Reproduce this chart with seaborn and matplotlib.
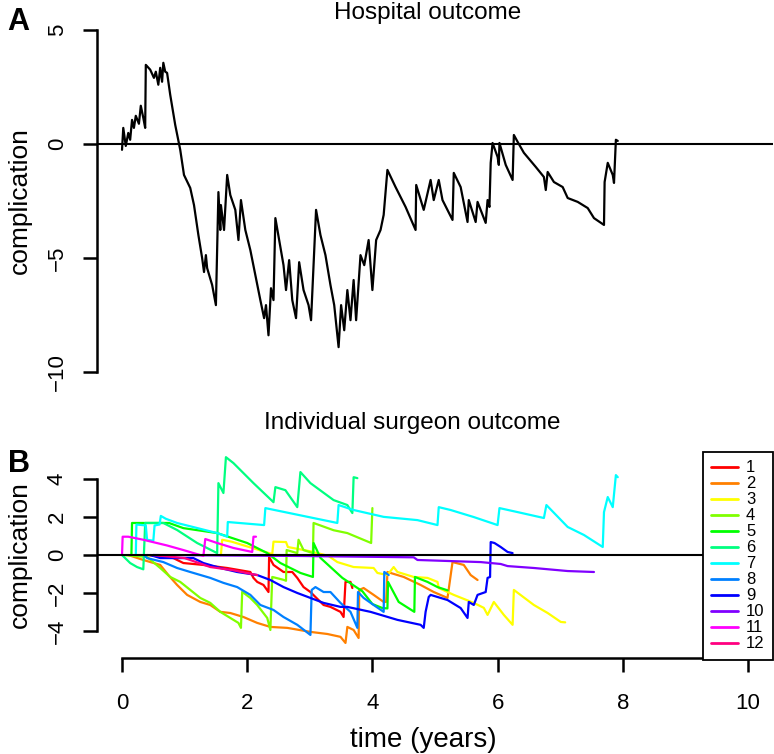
import matplotlib
matplotlib.use('Agg')
import matplotlib.pyplot as plt
import numpy as np
import pandas as pd
import seaborn as sns

sns.set_style('ticks', {'axes.edgecolor': 'black', 'text.color': 'black',
                        'axes.labelcolor': 'black', 'xtick.color': 'black',
                        'ytick.color': 'black'})
plt.rcParams['font.family'] = ['Liberation Sans', 'DejaVu Sans']

# Panel A: hospital CUSUM (time in years, cumulative complication score)
hospital_t = [0.00, 0.02, 0.06, 0.10, 0.13, 0.16, 0.19, 0.22, 0.27, 0.30, 0.34, 0.37,
              0.38, 0.45, 0.51, 0.54, 0.58, 0.61, 0.64, 0.66, 0.69, 0.72, 0.77, 0.85,
              0.93, 0.99, 1.09, 1.15, 1.22, 1.28, 1.31, 1.34, 1.36, 1.44, 1.50, 1.54,
              1.57, 1.58, 1.63, 1.68, 1.73, 1.81, 1.86, 1.90, 1.97, 2.05, 2.13, 2.21,
              2.27, 2.30, 2.34, 2.38, 2.42, 2.45, 2.51, 2.58, 2.62, 2.67, 2.72, 2.78,
              2.83, 2.90, 2.98, 3.02, 3.07, 3.10, 3.17, 3.25, 3.33, 3.39, 3.46, 3.50,
              3.55, 3.60, 3.65, 3.70, 3.74, 3.81, 3.87, 3.94, 4.00, 4.06, 4.13, 4.18,
              4.24, 4.37, 4.53, 4.69, 4.70, 4.82, 4.93, 4.98, 5.06, 5.12, 5.28, 5.30,
              5.41, 5.52, 5.54, 5.65, 5.68, 5.81, 5.84, 5.87, 5.89, 5.92, 6.00, 6.02,
              6.03, 6.13, 6.24, 6.26, 6.32, 6.42, 6.61, 6.74, 6.77, 6.80, 6.90, 7.04,
              7.12, 7.28, 7.44, 7.54, 7.70, 7.71, 7.76, 7.84, 7.86, 7.89, 7.92]
hospital_v = [-0.26, 0.70, -0.09, 0.48, 0.18, 1.05, 0.70, 1.23, 0.88, 1.67, 1.14, 0.70,
              3.46, 3.25, 2.89, 3.16, 2.59, 3.33, 2.72, 3.55, 3.16, 3.11, 2.15, 0.83,
              -0.26, -1.36, -1.93, -2.68, -3.99, -5.00, -5.61, -4.87, -5.44, -6.18, -7.06, -2.11,
              -3.77, -2.68, -3.77, -1.36, -2.24, -2.89, -4.21, -2.46, -3.77, -4.65, -5.75, -6.84,
              -7.63, -7.06, -8.38, -6.32, -6.84, -3.25, -4.21, -5.31, -6.40, -5.09, -6.84, -7.63,
              -5.18, -6.40, -7.06, -7.72, -4.65, -2.89, -3.99, -4.87, -6.18, -7.06, -8.90, -7.06,
              -8.16, -6.40, -7.72, -5.96, -7.72, -4.87, -5.31, -4.21, -6.40, -4.21, -3.77, -3.11,
              -1.14, -1.89, -2.76, -3.77, -1.80, -2.89, -1.58, -2.46, -1.58, -2.46, -3.33, -1.27,
              -1.89, -3.42, -2.46, -3.42, -2.54, -3.46, -2.46, -2.76, -0.83, 0.04, -0.57, -0.92,
              0.04, -0.92, -1.58, 0.39, 0.09, -0.39, -1.01, -1.45, -2.02, -1.23, -1.67, -1.89,
              -2.37, -2.54, -2.81, -3.25, -3.55, -1.67, -0.83, -1.36, -1.71, 0.18, 0.13]

# Panel B: individual surgeon CUSUMs, (time, score) pairs
surgeon_1 = [(0.40, 0.00), (0.82, -0.16), (0.98, -0.42), (1.30, -0.52), (1.68, -0.68),
             (2.05, -0.89), (2.10, -1.20), (2.16, -1.41), (2.26, -1.57), (2.34, -1.94),
             (2.35, -0.10), (2.42, -0.52), (2.58, -0.89), (2.72, -0.89), (2.80, -1.20),
             (2.90, -1.68), (3.01, -1.94), (3.09, -2.20), (3.22, -2.62), (3.33, -2.72),
             (3.49, -2.98), (3.54, -3.25), (3.57, -1.41), (3.65, -1.41), (3.68, -1.73)]
surgeon_2 = [(0.10, 0.00), (0.34, -0.26), (0.61, -0.52), (0.74, -1.05), (0.88, -1.57),
             (1.04, -2.09), (1.25, -2.46), (1.41, -2.62), (1.57, -2.98), (1.73, -3.04),
             (1.94, -3.25), (2.16, -3.56), (2.37, -3.77), (2.64, -3.82), (3.01, -4.03),
             (3.28, -4.14), (3.49, -4.29), (3.57, -4.61), (3.60, -3.77), (3.70, -3.93),
             (3.78, -4.35), (3.79, -1.83), (3.86, -1.73), (4.02, -2.09), (4.18, -2.46),
             (4.22, -2.46), (4.24, -0.89), (4.50, -1.15), (4.77, -1.57), (4.98, -1.94),
             (5.20, -2.25), (5.28, -0.37), (5.46, -0.52), (5.57, -1.05), (5.68, -1.31)]
surgeon_3 = [(1.58, 0.00), (1.60, 0.80), (1.75, 0.70), (2.10, 0.35), (2.40, 0.05),
             (2.42, 0.70), (2.62, 0.68), (2.65, 0.42), (3.00, 0.20), (3.30, -0.05),
             (3.44, -0.37), (3.70, -0.63), (4.02, -0.68), (4.08, -0.94), (4.24, -1.05),
             (4.34, -0.63), (4.40, -0.89), (4.66, -1.15), (4.88, -1.20), (5.04, -1.41),
             (5.06, -1.73), (5.30, -2.09), (5.62, -2.51), (5.78, -2.77), (5.84, -3.14),
             (5.94, -2.46), (6.10, -3.14), (6.24, -3.66), (6.26, -1.83), (6.58, -2.62),
             (6.80, -3.04), (7.01, -3.51), (7.08, -3.53)]
surgeon_4 = [(0.00, 0.00), (0.40, -0.10), (0.61, -0.68), (0.77, -1.15), (0.93, -1.41),
             (1.09, -1.83), (1.25, -2.25), (1.41, -2.51), (1.57, -2.98), (1.73, -3.30),
             (1.86, -3.56), (1.90, -3.82), (1.92, -1.93), (2.05, -2.25), (2.16, -2.62),
             (2.32, -3.30), (2.37, -3.93), (2.40, -1.15), (2.58, -1.30), (2.62, -1.35),
             (2.63, 0.26), (2.80, 0.10), (2.82, 0.80), (2.90, 0.26), (3.05, 0.10),
             (3.06, 1.68), (3.38, 1.30), (3.60, 1.15), (3.98, 0.63), (4.00, 2.46)]
surgeon_5 = [(0.15, 0.00), (0.16, 1.68), (0.75, 1.68), (0.98, 1.41), (1.52, 1.15),
             (2.00, 0.63), (2.32, 0.10), (2.53, -0.42), (2.85, -0.94), (3.05, -1.15),
             (3.06, 0.63), (3.17, -0.15), (3.52, -1.20), (3.68, -1.55), (3.84, -1.90),
             (4.00, -2.57), (4.16, -2.78), (4.24, -2.80), (4.25, -1.41), (4.42, -2.46),
             (4.67, -2.98), (4.68, -1.15), (4.88, -1.41), (5.04, -1.68), (5.20, -1.85)]
surgeon_6 = [(0.00, 0.00), (0.13, -0.42), (0.24, -0.63), (0.34, -0.75), (0.37, 1.68),
             (0.66, 1.68), (0.88, 1.31), (1.20, 0.63), (1.52, 0.10), (1.54, 3.77),
             (1.62, 3.25), (1.66, 5.13), (1.78, 4.82), (2.10, 3.77), (2.42, 2.77),
             (2.45, 3.56), (2.61, 3.40), (2.80, 2.51), (2.85, 4.35), (3.01, 3.77),
             (3.38, 2.88), (3.60, 2.62), (3.68, 2.20), (3.70, 4.08), (3.76, 4.03)]
surgeon_7 = [(0.22, 0.00), (0.23, 1.60), (0.38, 1.55), (0.40, 0.80), (0.50, 0.75),
             (0.52, 1.55), (0.60, 1.60), (0.62, 2.05), (0.70, 1.90), (0.88, 1.68),
             (1.52, 1.15), (1.68, 0.96), (1.69, 1.73), (2.27, 1.57), (2.29, 2.46),
             (3.44, 1.68), (3.46, 2.62), (3.70, 2.36), (4.18, 2.00), (4.72, 1.83),
             (5.04, 1.57), (5.06, 2.51), (5.25, 2.36), (5.62, 1.99), (6.00, 1.57),
             (6.03, 2.46), (6.32, 2.25), (6.74, 1.94), (6.78, 2.62), (7.12, 1.47),
             (7.38, 1.05), (7.68, 0.42), (7.70, 2.25), (7.76, 3.04), (7.84, 2.51),
             (7.89, 4.19), (7.92, 4.08)]
surgeon_8 = [(0.35, 0.00), (0.40, -0.16), (0.66, -0.37), (0.88, -0.68), (1.09, -0.89),
             (1.41, -1.20), (1.62, -1.46), (1.84, -1.68), (2.05, -2.09), (2.21, -2.62),
             (2.42, -2.88), (2.58, -3.25), (2.80, -3.66), (3.01, -4.19), (3.03, -1.83),
             (3.09, -1.68), (3.22, -1.94), (3.33, -1.94), (3.49, -2.51), (3.65, -2.98),
             (3.76, -3.82), (3.77, -1.94), (3.86, -2.25), (4.02, -2.62), (4.18, -2.98),
             (4.19, -0.89), (4.26, -1.05)]
surgeon_9 = [(0.45, 0.00), (0.61, -0.16), (1.14, -0.16), (1.30, -0.42), (1.57, -0.68),
             (1.84, -0.89), (2.16, -1.05), (2.37, -1.31), (2.58, -1.68), (2.80, -1.99),
             (3.01, -2.25), (3.22, -2.51), (3.49, -2.72), (3.60, -2.72), (3.97, -2.98),
             (4.40, -3.40), (4.77, -3.66), (4.82, -3.82), (4.85, -2.98), (4.90, -2.20),
             (4.93, -2.09), (5.20, -2.36), (5.41, -2.78), (5.52, -3.30), (5.54, -2.46),
             (5.62, -2.62), (5.68, -2.09), (5.81, -1.94), (5.84, -1.20), (5.88, -1.15),
             (5.89, 0.68), (5.95, 0.63), (6.05, 0.42), (6.16, 0.16), (6.24, 0.10)]
surgeon_10 = [(0.50, 0.00), (2.85, -0.05), (4.66, -0.12), (4.72, -0.26), (5.73, -0.37),
              (6.05, -0.47), (6.16, -0.58), (6.58, -0.68), (7.12, -0.84), (7.54, -0.89)]
surgeon_11 = [(0.00, 0.00), (0.01, 0.96), (0.10, 0.96), (0.34, 0.80), (0.72, 0.50),
              (0.98, 0.26), (1.30, -0.05), (1.33, 0.84), (1.52, 0.63), (1.78, 0.37),
              (2.08, 0.16), (2.10, 0.96), (2.14, 0.96)]
surgeon_12 = [(0.50, 0.00), (1.00, -0.16), (1.41, -0.63), (1.78, -0.80), (2.00, -0.95),
              (2.16, -1.05)]

surgeons = [surgeon_1, surgeon_2, surgeon_3, surgeon_4, surgeon_5, surgeon_6,
            surgeon_7, surgeon_8, surgeon_9, surgeon_10, surgeon_11, surgeon_12]
surgeon_labels = [str(i) for i in range(1, 13)]
# R rainbow(12)
surgeon_colors = ['#FF0000', '#FF8000', '#FFFF00', '#80FF00', '#00FF00', '#00FF80',
                  '#00FFFF', '#0080FF', '#0000FF', '#8000FF', '#FF00FF', '#FF0080']

rows = []
for lab, pts in zip(surgeon_labels, surgeons):
    for t, v in pts:
        rows.append((lab, t, v))
df = pd.DataFrame(rows, columns=['surgeon', 't', 'v'])

fig = plt.figure(figsize=(7.74, 7.54), dpi=100)
ax_a = fig.add_axes([0.1253, 0.4881, 0.8734, 0.4907])
ax_b = fig.add_axes([0.1253, 0.1273, 0.8734, 0.2732])

AX_LW = 1.8
TICK_FS = 16
LAB_FS = 19

# ---- Panel A ----
sns.lineplot(x=hospital_t, y=hospital_v, sort=False, estimator=None,
             color='black', linewidth=1.6, ax=ax_a)
ax_a.axhline(0, color='black', linewidth=1.5)
ax_a.set_xlim(-0.4, 10.4)
ax_a.set_ylim(-10.6, 5.6)
for s in ['top', 'right', 'bottom']:
    ax_a.spines[s].set_visible(False)
ax_a.spines['left'].set_bounds(-10, 5)
ax_a.spines['left'].set_linewidth(AX_LW)
ax_a.set_xticks([])
ax_a.set_yticks([-10, -5, 0, 5])
ax_a.set_yticklabels(['\u221210', '\u22125', '0', '5'], rotation=90, va='center')
ax_a.tick_params(axis='y', length=10, width=AX_LW, labelsize=TICK_FS, pad=11)
ax_a.set_ylabel('complication', fontsize=LAB_FS)
ax_a.yaxis.set_label_coords(-0.097, 0.5)

# ---- Panel B ----
sns.lineplot(data=df, x='t', y='v', hue='surgeon', hue_order=surgeon_labels,
             palette=surgeon_colors, sort=False, estimator=None,
             linewidth=1.6, ax=ax_b)
ax_b.axhline(0, color='black', linewidth=1.5)
ax_b.set_xlim(-0.4, 10.4)
ax_b.set_ylim(-5.4, 5.4)
for s in ['top', 'right']:
    ax_b.spines[s].set_visible(False)
ax_b.spines['left'].set_bounds(-4, 4)
ax_b.spines['bottom'].set_bounds(0, 10)
ax_b.spines['left'].set_linewidth(AX_LW)
ax_b.spines['bottom'].set_linewidth(AX_LW)
ax_b.set_yticks([-4, -2, 0, 2, 4])
ax_b.set_yticklabels(['\u22124', '\u22122', '0', '2', '4'], rotation=90, va='center')
ax_b.set_xticks([0, 2, 4, 6, 8, 10])
ax_b.tick_params(axis='y', length=10, width=AX_LW, labelsize=TICK_FS, pad=11)
ax_b.tick_params(axis='x', length=10, width=AX_LW, labelsize=TICK_FS, pad=15)
ax_b.set_ylabel('complication', fontsize=LAB_FS)
ax_b.yaxis.set_label_coords(-0.097, 0.5)
ax_b.set_xlabel('time (years)', fontsize=LAB_FS + 1)
ax_b.xaxis.set_label_coords(0.482, -0.335)

old = ax_b.get_legend()
handles = old.legend_handles
labels = [t.get_text() for t in old.get_texts()]
for h in handles:
    h.set_linewidth(2)
leg = ax_b.legend(handles, labels, loc='upper right', bbox_to_anchor=(1.0, 1.0),
                  borderaxespad=0, frameon=True, fancybox=False, framealpha=1,
                  edgecolor='black', fontsize=12, handlelength=1.6,
                  handletextpad=0.5, labelspacing=0.06, borderpad=0.5)
leg.get_frame().set_linewidth(1.3)

# titles and panel letters
fig.text(0.553, 0.983, 'Hospital outcome', ha='center', va='center', fontsize=17.5)
fig.text(0.532, 0.439, 'Individual surgeon outcome', ha='center', va='center', fontsize=17.5)
fig.text(0.024, 0.971, 'A', ha='center', va='center', fontsize=22, fontweight='bold')
fig.text(0.024, 0.384, 'B', ha='center', va='center', fontsize=22, fontweight='bold')

fig.savefig('out.png', dpi=100)
